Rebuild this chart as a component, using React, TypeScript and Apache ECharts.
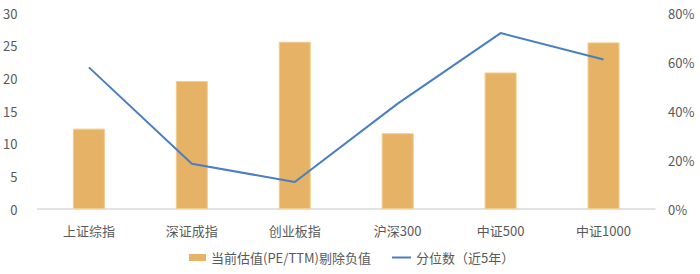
import React, { useEffect, useRef } from "react";
import * as echarts from "echarts";

const categories = ["上证综指", "深证成指", "创业板指", "沪深300", "中证500", "中证1000"];
const peValues = [12.3, 19.6, 25.6, 11.6, 20.9, 25.5];
const percentileValues = [57.8, 18.5, 11, 43, 71.8, 61];
const barName = "当前估值(PE/TTM)剔除负值";
const lineName = "分位数（近5年）";

const FONT = "'Noto Sans CJK SC', 'Noto Sans', sans-serif";
const BAR_COLOR = "#E6B266";
const LINE_COLOR = "#4A7EC2";

export default function App() {
  const ref = useRef<HTMLDivElement>(null);
  useEffect(() => {
    if (!ref.current) return;
    const chart = echarts.init(ref.current, undefined, { renderer: "svg" });
    const legendText = { fontSize: 13, color: "#595959", fontFamily: FONT };
    chart.setOption({
      animation: false,
      textStyle: { fontFamily: FONT },
      grid: { left: 35, right: 45, top: 13, bottom: 65, containLabel: false },
      legend: [
        {
          left: 189,
          bottom: 10,
          padding: 0,
          itemWidth: 17,
          itemHeight: 7,
          itemGap: 4,
          textStyle: legendText,
          data: [{ name: barName, icon: "rect", itemStyle: { color: BAR_COLOR, borderWidth: 0 } }],
        },
        {
          left: 392,
          bottom: 10,
          padding: 0,
          itemWidth: 19,
          itemHeight: 2,
          textStyle: legendText,
          data: [{ name: lineName, icon: "rect", itemStyle: { color: LINE_COLOR } }],
        },
      ],
      xAxis: {
        type: "category",
        data: categories,
        axisLine: { lineStyle: { color: "#D9D9D9", width: 1.5 } },
        axisTick: { show: false },
        axisLabel: { fontSize: 13, color: "#595959", margin: 15, fontFamily: FONT },
      },
      yAxis: [
        {
          type: "value",
          min: 0,
          max: 30,
          interval: 5,
          splitLine: { show: false },
          axisLine: { show: false },
          axisTick: { show: false },
          axisLabel: { fontSize: 13, color: "#595959", margin: 20, fontFamily: FONT },
        },
        {
          type: "value",
          min: 0,
          max: 80,
          interval: 20,
          splitLine: { show: false },
          axisLine: { show: false },
          axisTick: { show: false },
          axisLabel: {
            fontSize: 13,
            color: "#595959",
            margin: 13,
            fontFamily: FONT,
            formatter: (v: number) => v + "%",
          },
        },
      ],
      series: [
        {
          name: barName,
          type: "bar",
          data: peValues,
          barWidth: 32,
          itemStyle: { color: BAR_COLOR, borderColor: "#F2CC8C", borderWidth: 1 },
        },
        {
          name: lineName,
          type: "line",
          yAxisIndex: 1,
          data: percentileValues,
          symbol: "none",
          lineStyle: { color: LINE_COLOR, width: 2 },
          itemStyle: { color: LINE_COLOR },
        },
      ],
    });
    return () => chart.dispose();
  }, []);
  return <div ref={ref} style={{ width: 700, height: 274, position: "absolute", left: 0, top: 0 }} />;
}
